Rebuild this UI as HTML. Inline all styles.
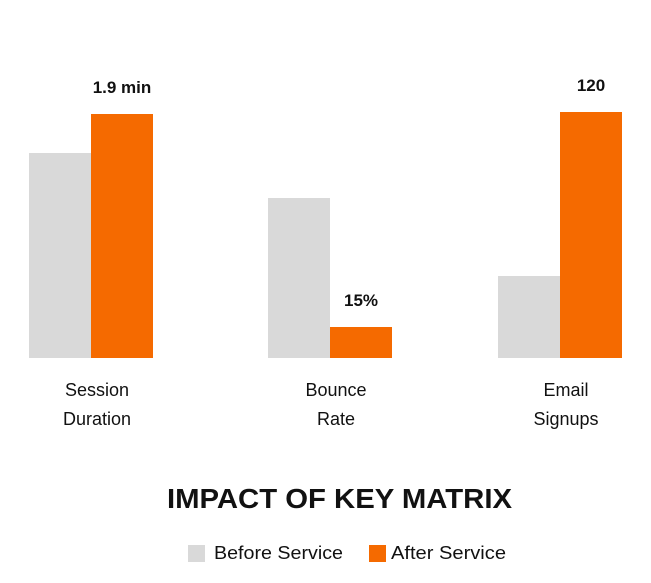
<!DOCTYPE html>
<html><head><meta charset="utf-8"><style>
body{margin:0;background:#fff;font-family:"Liberation Sans",sans-serif;}
svg{display:block}
</style></head><body>
<svg id="chart" width="651" height="583">
<g id="bars"></g>
<text x="167" y="508" textLength="345" lengthAdjust="spacingAndGlyphs" font-size="28" font-weight="bold" fill="#111">IMPACT OF KEY MATRIX</text>
<g>
<rect x="188" y="545" width="17" height="17" fill="#d9d9d9"></rect>
<text x="214" y="559" textLength="129" lengthAdjust="spacingAndGlyphs" font-size="18" fill="#111">Before Service</text>
<rect x="369" y="545" width="17" height="17" fill="#f56a00"></rect>
<text x="391" y="559" textLength="115" lengthAdjust="spacingAndGlyphs" font-size="18" fill="#111">After Service</text>
</g>
</svg>
<script>
const categories=[["Session","Duration"],["Bounce","Rate"],["Email","Signups"]];
const beforeValues=[205,160,82];
const afterValues=[244,31,246];
const afterLabels=["1.9 min","15%","120"];
const ns="http://www.w3.org/2000/svg";
const g=document.getElementById('bars');
const baseY=358, scale=1, groupStart=[29,268,498], barW=62;
function y(v){return baseY-v*scale;}
function mk(t,a){const e=document.createElementNS(ns,t);for(const k in a)e.setAttribute(k,a[k]);g.appendChild(e);return e;}
categories.forEach((c,i)=>{
  const x0=groupStart[i];
  const b=mk('rect',{x:x0,y:y(beforeValues[i]),width:barW,height:beforeValues[i]*scale,fill:'#d9d9d9'});
  
  
  const a=mk('rect',{x:x0+barW,y:y(afterValues[i]),width:barW,height:afterValues[i]*scale,fill:'#f56a00'});
  
  
  const l=mk('text',{x:x0+barW*1.5,y:y(afterValues[i])-21,'text-anchor':'middle','font-size':17,'font-weight':'bold',fill:'#111'});
  l.textContent=afterLabels[i];
  
  
  const cx=x0+barW+6;
  c.forEach((line,j)=>{
    const t=mk('text',{x:cx,y:396+j*29,'text-anchor':'middle','font-size':18,fill:'#111'});
    t.textContent=line;
    
    
  });
});
</script>
</body></html>
